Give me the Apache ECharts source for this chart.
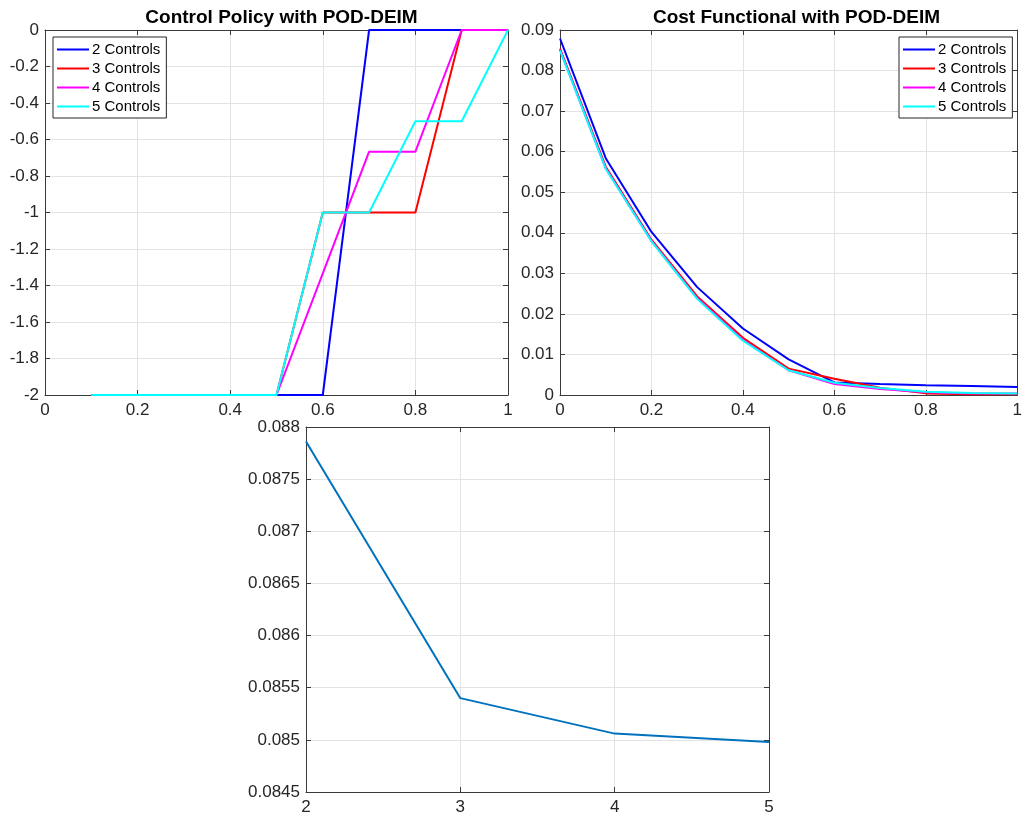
<!DOCTYPE html>
<html>
<head>
<meta charset="utf-8">
<title>POD-DEIM control and cost</title>
<script src="https://cdn.jsdelivr.net/npm/echarts@6/dist/echarts.min.js"></script>
<style>
  html, body { margin: 0; padding: 0; background: #fff; }
  #chart { width: 1025px; height: 821px; }
</style>
</head>
<body>
<div id="chart"></div>
<script>
// Time grid of the control policy (starts at 0.1) and of the cost functional (starts at 0)
const policyT = [0.1, 0.2, 0.3, 0.4, 0.5, 0.6, 0.7, 0.8, 0.9, 1.0];
const costT = [0, 0.1, 0.2, 0.3, 0.4, 0.5, 0.6, 0.7, 0.8, 0.9, 1.0];

const seriesNames = ['2 Controls', '3 Controls', '4 Controls', '5 Controls'];
const seriesColors = ['#0000ff', '#ff0000', '#ff00ff', '#00ffff'];

// Control policy u(t) for each number of controls
const policy2 = [-2, -2, -2, -2, -2, -2, 0, 0, 0, 0];
const policy3 = [-2, -2, -2, -2, -2, -1, -1, -1, 0, 0];
const policy4 = [-2, -2, -2, -2, -2, -1.3333, -0.6667, -0.6667, 0, 0];
const policy5 = [-2, -2, -2, -2, -2, -1, -1, -0.5, -0.5, 0];

// Cost functional over time for each number of controls
const cost2 = [0.0879, 0.0584, 0.0402, 0.0266, 0.0164, 0.0088, 0.0031, 0.0027, 0.0024, 0.0022, 0.0020];
const cost3 = [0.0854, 0.0563, 0.0383, 0.0243, 0.0141, 0.0065, 0.0040, 0.0018, 0.0004, 0.0002, 0.0002];
const cost4 = [0.0851, 0.0559, 0.0380, 0.0239, 0.0136, 0.0061, 0.0027, 0.0015, 0.0007, 0.0004, 0.0004];
const cost5 = [0.0850, 0.0558, 0.0379, 0.0237, 0.0134, 0.0061, 0.0030, 0.0017, 0.0008, 0.0005, 0.0004];

// Initial cost versus number of controls
const controlCounts = [2, 3, 4, 5];
const initialCost = [0.08786, 0.08540, 0.08506, 0.08498];

const policyData = [policy2, policy3, policy4, policy5];
const costData = [cost2, cost3, cost4, cost5];

const FONT = 'Liberation Sans, Arial, Helvetica, sans-serif';
const AXIS_COLOR = '#3a3a3a';
const GRID_COLOR = '#e3e3e3';
const TEXT_COLOR = '#262626';

// Plot boxes
const grids = [
  { left: 45, top: 30, width: 463, height: 365 },
  { left: 560, top: 30, width: 463, height: 365 },
  { left: 306, top: 427, width: 463, height: 365 }
];

// Axis ranges per plot: [xmin, xmax, xstep, ymin, ymax, ystep]
const ranges = [
  [0, 1, 0.2, -2, 0, 0.2],
  [0, 1, 0.2, 0, 0.09, 0.01],
  [2, 5, 1, 0.0845, 0.088, 0.0005]
];

const xAxes = [];
const yAxes = [];
ranges.forEach((r, g) => {
  // bottom / left axes carry labels and grid lines
  xAxes.push({
    type: 'value', gridIndex: g, position: 'bottom',
    min: r[0], max: r[1], interval: r[2],
    axisLine: { show: true, onZero: false, lineStyle: { color: AXIS_COLOR, width: 1 } },
    axisTick: { show: true, inside: true, length: 5, lineStyle: { color: AXIS_COLOR } },
    axisLabel: { color: TEXT_COLOR, fontSize: 17, fontFamily: FONT, margin: 7, showMinLabel: true, showMaxLabel: true },
    splitLine: { show: true, lineStyle: { color: GRID_COLOR, width: 1 } }
  });
  // top / right axes close the box with inward ticks
  xAxes.push({
    type: 'value', gridIndex: g, position: 'top',
    min: r[0], max: r[1], interval: r[2],
    axisLine: { show: true, onZero: false, lineStyle: { color: AXIS_COLOR, width: 1 } },
    axisTick: { show: true, inside: true, length: 5, lineStyle: { color: AXIS_COLOR } },
    axisLabel: { show: false },
    splitLine: { show: false }
  });
  yAxes.push({
    type: 'value', gridIndex: g, position: 'left',
    min: r[3], max: r[4], interval: r[5],
    axisLine: { show: true, onZero: false, lineStyle: { color: AXIS_COLOR, width: 1 } },
    axisTick: { show: true, inside: true, length: 5, lineStyle: { color: AXIS_COLOR } },
    axisLabel: { color: TEXT_COLOR, fontSize: 17, fontFamily: FONT, margin: 6, showMinLabel: true, showMaxLabel: true },
    splitLine: { show: true, lineStyle: { color: GRID_COLOR, width: 1 } }
  });
  yAxes.push({
    type: 'value', gridIndex: g, position: 'right',
    min: r[3], max: r[4], interval: r[5],
    axisLine: { show: true, onZero: false, lineStyle: { color: AXIS_COLOR, width: 1 } },
    axisTick: { show: true, inside: true, length: 5, lineStyle: { color: AXIS_COLOR } },
    axisLabel: { show: false },
    splitLine: { show: false }
  });
});

function lineSeries(name, color, xs, ys, g) {
  return {
    name: name,
    type: 'line',
    xAxisIndex: g * 2,
    yAxisIndex: g * 2,
    data: xs.map((x, i) => [x, ys[i]]),
    symbol: 'none',
    showSymbol: false,
    color: color,
    itemStyle: { color: color },
    lineStyle: { color: color, width: 2 },
    emphasis: { disabled: true },
    animation: false
  };
}

const series = [];
seriesNames.forEach((name, i) => {
  series.push(lineSeries(name, seriesColors[i], policyT, policyData[i], 0));
});
seriesNames.forEach((name, i) => {
  series.push(lineSeries(name, seriesColors[i], costT, costData[i], 1));
});
series.push(lineSeries('Initial cost', '#0072bd', controlCounts, initialCost, 2));

function legendBox(left) {
  return {
    data: seriesNames,
    orient: 'vertical',
    left: left,
    top: 37,
    icon: 'rect',
    itemWidth: 32,
    itemHeight: 2,
    itemGap: 4,
    padding: [5, 6, 4, 4],
    backgroundColor: '#ffffff',
    borderColor: '#262626',
    borderWidth: 1,
    borderRadius: 0,
    selectedMode: false,
    textStyle: { color: '#000', fontSize: 15, lineHeight: 15, fontFamily: FONT, padding: [0, 0, 0, -2] }
  };
}

const option = {
  backgroundColor: '#ffffff',
  animation: false,
  title: [
    {
      text: 'Control Policy with POD-DEIM',
      left: 276.5, top: 3, textAlign: 'center',
      textStyle: { fontSize: 19, fontWeight: 'bold', color: '#000', fontFamily: FONT }
    },
    {
      text: 'Cost Functional with POD-DEIM',
      left: 791.5, top: 3, textAlign: 'center',
      textStyle: { fontSize: 19, fontWeight: 'bold', color: '#000', fontFamily: FONT }
    }
  ],
  legend: [legendBox(53), legendBox(899)],
  grid: grids.map(g => Object.assign({ containLabel: false }, g)),
  xAxis: xAxes,
  yAxis: yAxes,
  series: series
};

const chart = echarts.init(document.getElementById('chart'), null, { renderer: 'canvas' });
chart.setOption(option);
</script>
</body>
</html>
